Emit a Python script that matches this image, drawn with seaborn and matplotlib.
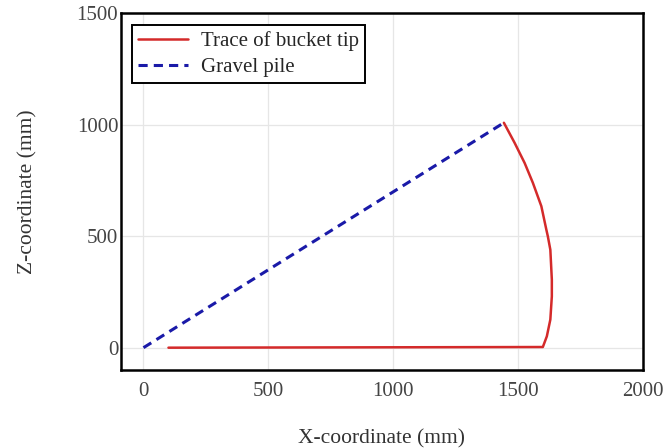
import matplotlib
matplotlib.use("Agg")
import matplotlib.pyplot as plt
import seaborn as sns
import pandas as pd

# Trace of bucket tip (mm)
trace_x = [100, 1599, 1615, 1629, 1635, 1635, 1629, 1619, 1613, 1593, 1559, 1526, 1486, 1443]
trace_z = [0, 3, 51, 126, 230, 305, 439, 499, 529, 634, 739, 828, 918, 1008]

# Gravel pile slope (mm)
pile_x = [0, 1443]
pile_z = [0, 1008]

x_ticks = [0, 500, 1000, 1500, 2000]
z_ticks = [0, 500, 1000, 1500]

sns.set_theme(style="whitegrid")
plt.rcParams['font.family'] = ['Liberation Serif', 'DejaVu Serif']

fig = plt.figure(figsize=(6.72, 4.48), dpi=100)
ax = fig.add_axes([121/672, 1-370/448, (643-121)/672, (370-13)/448])

df_trace = pd.DataFrame({"x": trace_x, "z": trace_z})
df_pile = pd.DataFrame({"x": pile_x, "z": pile_z})

sns.lineplot(data=df_trace, x="x", y="z", sort=False, ax=ax, color="#d42a2a",
             linewidth=1.8, label="Trace of bucket tip", estimator=None)
sns.lineplot(data=df_pile, x="x", y="z", sort=False, ax=ax, color="#1a1aa8",
             linewidth=2.2, linestyle=(0, (3, 2)), label="Gravel pile", estimator=None)

ax.set_xlim(-90, 2000)
ax.set_ylim(-100, 1500)
ax.set_xticks(x_ticks)
ax.set_yticks(z_ticks)
ax.tick_params(axis="both", length=0, labelsize=15, labelcolor="#444444")
ax.tick_params(axis="x", pad=9)
ax.tick_params(axis="y", pad=2)
ax.grid(True, color="#e6e6e6", linewidth=0.9)
for s in ax.spines.values():
    s.set_color("black")
    s.set_linewidth(1.8)

ax.set_xlabel("X-coordinate (mm)", fontsize=15.5, color="#333333", labelpad=20)
ax.set_ylabel("Z-coordinate (mm)", fontsize=15.5, color="#333333", labelpad=28)

leg = ax.legend(loc="upper left", bbox_to_anchor=(0.021, 0.966), fontsize=15,
                frameon=True, fancybox=False, framealpha=1, handlelength=2.4,
                borderpad=0.3, labelspacing=0.3, handletextpad=0.6, borderaxespad=0)
leg.get_frame().set_edgecolor("black")
leg.get_frame().set_linewidth(1.4)

fig.savefig("out.png", dpi=100)
